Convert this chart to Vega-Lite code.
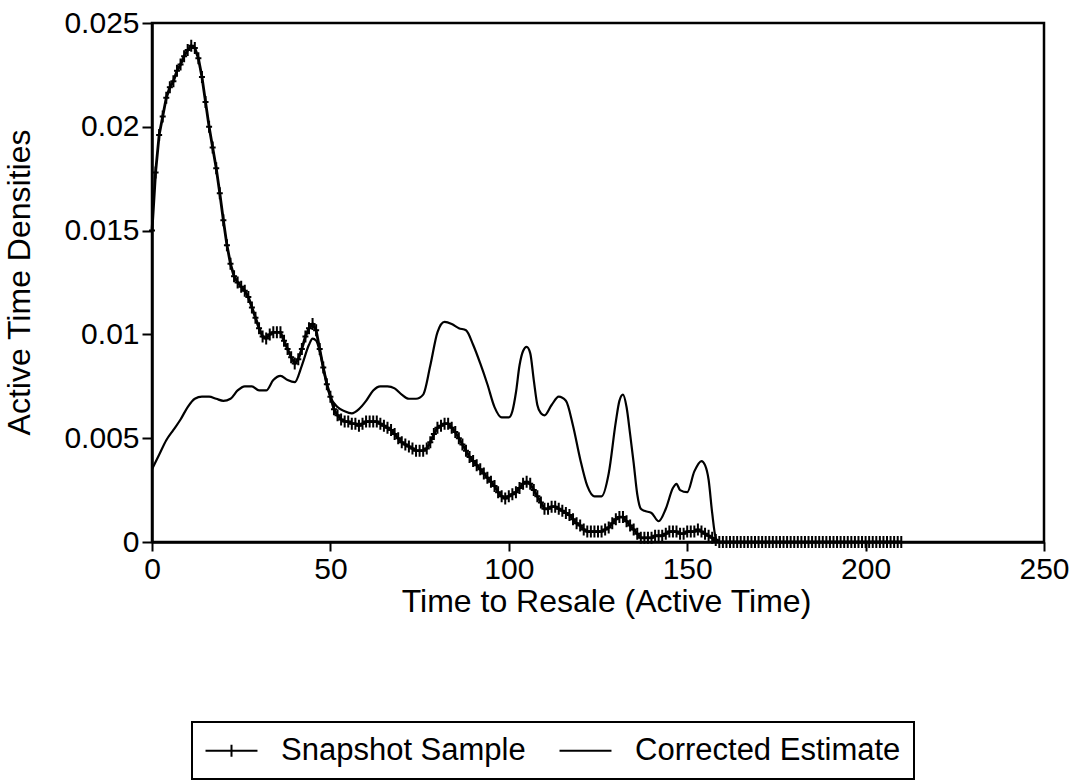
{
  "$schema": "https://vega.github.io/schema/vega-lite/v6.json",
  "width": 892,
  "height": 519,
  "autosize": {"type": "none"},
  "padding": {"left": 152, "top": 23, "right": 44, "bottom": 239},
  "background": "white",
  "config": {
    "font": "Liberation Sans",
    "view": {"stroke": "black", "strokeWidth": 2.5},
    "axis": {
      "grid": false,
      "labelFont": "Liberation Sans",
      "titleFont": "Liberation Sans",
      "labelFontSize": 30,
      "titleFontSize": 32,
      "titleFontWeight": "normal",
      "labelColor": "black",
      "titleColor": "black",
      "domainColor": "black",
      "domainWidth": 2.5,
      "tickColor": "black",
      "tickWidth": 2,
      "tickSize": 9,
      "labelFlush": false
    }
  },
  "datasets": {
    "snapshot": [
      {"t":0,"d":0.0150},{"t":1,"d":0.0178},{"t":2,"d":0.0196},{"t":3,"d":0.0205},{"t":4,"d":0.0214},{"t":5,"d":0.0219},{"t":6,"d":0.0222},{"t":7,"d":0.0227},{"t":8,"d":0.0230},{"t":9,"d":0.0234},
      {"t":10,"d":0.0237},{"t":11,"d":0.0239},{"t":12,"d":0.0238},{"t":13,"d":0.0233},{"t":14,"d":0.0224},{"t":15,"d":0.0212},{"t":16,"d":0.0200},{"t":17,"d":0.0190},{"t":18,"d":0.0180},{"t":19,"d":0.0168},
      {"t":20,"d":0.0155},{"t":21,"d":0.0143},{"t":22,"d":0.0134},{"t":23,"d":0.0128},{"t":24,"d":0.0125},{"t":25,"d":0.0123},{"t":26,"d":0.0121},{"t":27,"d":0.0118},{"t":28,"d":0.0113},{"t":29,"d":0.0108},
      {"t":30,"d":0.0103},{"t":31,"d":0.0099},{"t":32,"d":0.0098},{"t":33,"d":0.0100},{"t":34,"d":0.0101},{"t":35,"d":0.0101},{"t":36,"d":0.0101},{"t":37,"d":0.0097},{"t":38,"d":0.0093},{"t":39,"d":0.0089},
      {"t":40,"d":0.0086},{"t":41,"d":0.0088},{"t":42,"d":0.0093},{"t":43,"d":0.0099},{"t":44,"d":0.0103},{"t":45,"d":0.0105},{"t":46,"d":0.0102},{"t":47,"d":0.0093},{"t":48,"d":0.0084},{"t":49,"d":0.0076},
      {"t":50,"d":0.0070},{"t":51,"d":0.0064},{"t":52,"d":0.0061},{"t":53,"d":0.0059},{"t":54,"d":0.0058},{"t":55,"d":0.0058},{"t":56,"d":0.0057},{"t":57,"d":0.0057},{"t":58,"d":0.0056},{"t":59,"d":0.0057},
      {"t":60,"d":0.0058},{"t":61,"d":0.0058},{"t":62,"d":0.0058},{"t":63,"d":0.0058},{"t":64,"d":0.0057},{"t":65,"d":0.0056},{"t":66,"d":0.0055},{"t":67,"d":0.0054},{"t":68,"d":0.0052},{"t":69,"d":0.0050},
      {"t":70,"d":0.0048},{"t":71,"d":0.0047},{"t":72,"d":0.0046},{"t":73,"d":0.0045},{"t":74,"d":0.0044},{"t":75,"d":0.0044},{"t":76,"d":0.0044},{"t":77,"d":0.0045},{"t":78,"d":0.0048},{"t":79,"d":0.0052},
      {"t":80,"d":0.0055},{"t":81,"d":0.0056},{"t":82,"d":0.0057},{"t":83,"d":0.0057},{"t":84,"d":0.0055},{"t":85,"d":0.0053},{"t":86,"d":0.0050},{"t":87,"d":0.0047},{"t":88,"d":0.0044},{"t":89,"d":0.0041},
      {"t":90,"d":0.0039},{"t":91,"d":0.0037},{"t":92,"d":0.0035},{"t":93,"d":0.0033},{"t":94,"d":0.0031},{"t":95,"d":0.0029},{"t":96,"d":0.0027},{"t":97,"d":0.0024},{"t":98,"d":0.0022},{"t":99,"d":0.0021},
      {"t":100,"d":0.0022},{"t":101,"d":0.0023},{"t":102,"d":0.0024},{"t":103,"d":0.0026},{"t":104,"d":0.0028},{"t":105,"d":0.0029},{"t":106,"d":0.0028},{"t":107,"d":0.0025},{"t":108,"d":0.0022},{"t":109,"d":0.0019},
      {"t":110,"d":0.0016},{"t":111,"d":0.0016},{"t":112,"d":0.0017},{"t":113,"d":0.0017},{"t":114,"d":0.0016},{"t":115,"d":0.0015},{"t":116,"d":0.0014},{"t":117,"d":0.0013},{"t":118,"d":0.0011},{"t":119,"d":0.0009},
      {"t":120,"d":0.0008},{"t":121,"d":0.0006},{"t":122,"d":0.0005},{"t":123,"d":0.0005},{"t":124,"d":0.0005},{"t":125,"d":0.0005},{"t":126,"d":0.0005},{"t":127,"d":0.0006},{"t":128,"d":0.0007},{"t":129,"d":0.0009},
      {"t":130,"d":0.0011},{"t":131,"d":0.0012},{"t":132,"d":0.0012},{"t":133,"d":0.0010},{"t":134,"d":0.0008},{"t":135,"d":0.0006},{"t":136,"d":0.0004},{"t":137,"d":0.0002},{"t":138,"d":0.0002},{"t":139,"d":0.0002},
      {"t":140,"d":0.0002},{"t":141,"d":0.0003},{"t":142,"d":0.0003},{"t":143,"d":0.0003},{"t":144,"d":0.0004},{"t":145,"d":0.0005},{"t":146,"d":0.0005},{"t":147,"d":0.0005},{"t":148,"d":0.0004},{"t":149,"d":0.0004},
      {"t":150,"d":0.0005},{"t":151,"d":0.0005},{"t":152,"d":0.0005},{"t":153,"d":0.0006},{"t":154,"d":0.0005},{"t":155,"d":0.0004},{"t":156,"d":0.0003},{"t":157,"d":0.0002},{"t":158,"d":0.0001},{"t":159,"d":0},
      {"t":160,"d":0},{"t":161,"d":0},{"t":162,"d":0},{"t":163,"d":0},{"t":164,"d":0},{"t":165,"d":0},{"t":166,"d":0},{"t":167,"d":0},{"t":168,"d":0},{"t":169,"d":0},
      {"t":170,"d":0},{"t":171,"d":0},{"t":172,"d":0},{"t":173,"d":0},{"t":174,"d":0},{"t":175,"d":0},{"t":176,"d":0},{"t":177,"d":0},{"t":178,"d":0},{"t":179,"d":0},
      {"t":180,"d":0},{"t":181,"d":0},{"t":182,"d":0},{"t":183,"d":0},{"t":184,"d":0},{"t":185,"d":0},{"t":186,"d":0},{"t":187,"d":0},{"t":188,"d":0},{"t":189,"d":0},
      {"t":190,"d":0},{"t":191,"d":0},{"t":192,"d":0},{"t":193,"d":0},{"t":194,"d":0},{"t":195,"d":0},{"t":196,"d":0},{"t":197,"d":0},{"t":198,"d":0},{"t":199,"d":0},
      {"t":200,"d":0},{"t":201,"d":0},{"t":202,"d":0},{"t":203,"d":0},{"t":204,"d":0},{"t":205,"d":0},{"t":206,"d":0},{"t":207,"d":0},{"t":208,"d":0},{"t":209,"d":0},{"t":210,"d":0}
    ],
    "corrected": [
      {"t":0,"d":0.0035},{"t":2,"d":0.0042},{"t":4,"d":0.0049},{"t":6,"d":0.0054},{"t":8,"d":0.0059},{"t":10,"d":0.0065},{"t":12,"d":0.0069},{"t":14,"d":0.0070},{"t":16,"d":0.0070},{"t":18,"d":0.0069},
      {"t":20,"d":0.0068},{"t":22,"d":0.0069},{"t":24,"d":0.0073},{"t":26,"d":0.0075},{"t":28,"d":0.0075},{"t":30,"d":0.0073},{"t":32,"d":0.0073},{"t":34,"d":0.0078},{"t":36,"d":0.0080},{"t":38,"d":0.0078},
      {"t":40,"d":0.0077},{"t":42,"d":0.0085},{"t":44,"d":0.0095},{"t":45,"d":0.0098},{"t":46,"d":0.0097},{"t":47,"d":0.0092},{"t":48,"d":0.0084},{"t":49,"d":0.0076},{"t":50,"d":0.0070},{"t":52,"d":0.0065},
      {"t":54,"d":0.0063},{"t":56,"d":0.0062},{"t":58,"d":0.0064},{"t":60,"d":0.0068},{"t":62,"d":0.0073},{"t":64,"d":0.0075},{"t":66,"d":0.0075},{"t":68,"d":0.0074},{"t":70,"d":0.0071},{"t":72,"d":0.0069},
      {"t":74,"d":0.0069},{"t":76,"d":0.0071},{"t":78,"d":0.0085},{"t":80,"d":0.0101},{"t":82,"d":0.0106},{"t":84,"d":0.0105},{"t":86,"d":0.0103},{"t":88,"d":0.0102},{"t":90,"d":0.0095},{"t":92,"d":0.0086},
      {"t":94,"d":0.0076},{"t":96,"d":0.0065},{"t":98,"d":0.0060},{"t":100,"d":0.0060},{"t":101,"d":0.0063},{"t":102,"d":0.0072},{"t":103,"d":0.0085},{"t":104,"d":0.0092},{"t":105,"d":0.0094},{"t":106,"d":0.0091},
      {"t":107,"d":0.0078},{"t":108,"d":0.0066},{"t":109,"d":0.0062},{"t":110,"d":0.0061},{"t":112,"d":0.0066},{"t":114,"d":0.0070},{"t":116,"d":0.0068},{"t":118,"d":0.0056},{"t":120,"d":0.0040},{"t":122,"d":0.0027},
      {"t":124,"d":0.0022},{"t":126,"d":0.0022},{"t":128,"d":0.0033},{"t":130,"d":0.0058},{"t":131,"d":0.0068},{"t":132,"d":0.0071},{"t":133,"d":0.0065},{"t":134,"d":0.0052},{"t":135,"d":0.0038},{"t":136,"d":0.0023},
      {"t":137,"d":0.0016},{"t":138,"d":0.0015},{"t":140,"d":0.0014},{"t":142,"d":0.0010},{"t":144,"d":0.0016},{"t":146,"d":0.0026},{"t":147,"d":0.0028},{"t":148,"d":0.0025},{"t":150,"d":0.0024},{"t":152,"d":0.0034},
      {"t":154,"d":0.0039},{"t":155,"d":0.0037},{"t":156,"d":0.0030},{"t":157,"d":0.0014},{"t":158,"d":0.0002},{"t":159,"d":0},{"t":210,"d":0}
    ]
  },
  "encoding": {
    "x": {
      "field": "t", "type": "quantitative",
      "scale": {"domain": [0, 250], "nice": false},
      "axis": {"values": [0, 50, 100, 150, 200, 250], "title": "Time to Resale (Active Time)", "labelPadding": 3, "titlePadding": 2, "titleX": 454}
    },
    "y": {
      "field": "d", "type": "quantitative",
      "scale": {"domain": [0, 0.025], "nice": false},
      "axis": {"values": [0, 0.005, 0.01, 0.015, 0.02, 0.025], "format": "~g", "title": "Active Time Densities", "tickSize": 10, "labelPadding": 3, "titleX": -123, "titleY": 259, "titleBaseline": "alphabetic"}
    },
    "color": {
      "field": "series", "type": "nominal",
      "scale": {"domain": ["Snapshot Sample", "Corrected Estimate"], "range": ["black", "black"]},
      "legend": {
        "title": null,
        "orient": "none",
        "direction": "horizontal",
        "legendX": 40,
        "legendY": 699,
        "padding": 13,
        "strokeColor": "black",
        "labelFont": "Liberation Sans",
        "labelFontSize": 31,
        "labelColor": "black",
        "labelLimit": 500,
        "labelOffset": 34,
        "columnPadding": 29,
        "symbolSize": 300,
        "symbolStrokeWidth": 2,
        "symbolOffset": 11,
        "encode": {
          "legend": {
            "update": {
              "strokeWidth": {"value": 2}
            }
          },
          "symbols": {
            "update": {
              "shape": {"signal": "datum.value === 'Snapshot Sample' ? 'M-3,0H3M0,-0.7V0.7' : 'M-3,0H3'"},
              "fill": {"value": "transparent"},
              "stroke": {"value": "black"},
              "opacity": {"value": 1}
            }
          }
        }
      }
    }
  },
  "layer": [
    {
      "data": {"name": "corrected"},
      "transform": [{"calculate": "'Corrected Estimate'", "as": "series"}],
      "mark": {"type": "line", "interpolate": "monotone", "strokeWidth": 2.2}
    },
    {
      "data": {"name": "snapshot"},
      "transform": [{"calculate": "'Snapshot Sample'", "as": "series"}],
      "mark": {"type": "line", "strokeWidth": 2.8}
    },
    {
      "data": {"name": "snapshot"},
      "transform": [{"calculate": "'Snapshot Sample'", "as": "series"}],
      "mark": {"type": "point", "shape": "M0,-1V1M-0.5,0H0.5", "filled": false, "size": 144, "strokeWidth": 2, "opacity": 1}
    }
  ]
}
